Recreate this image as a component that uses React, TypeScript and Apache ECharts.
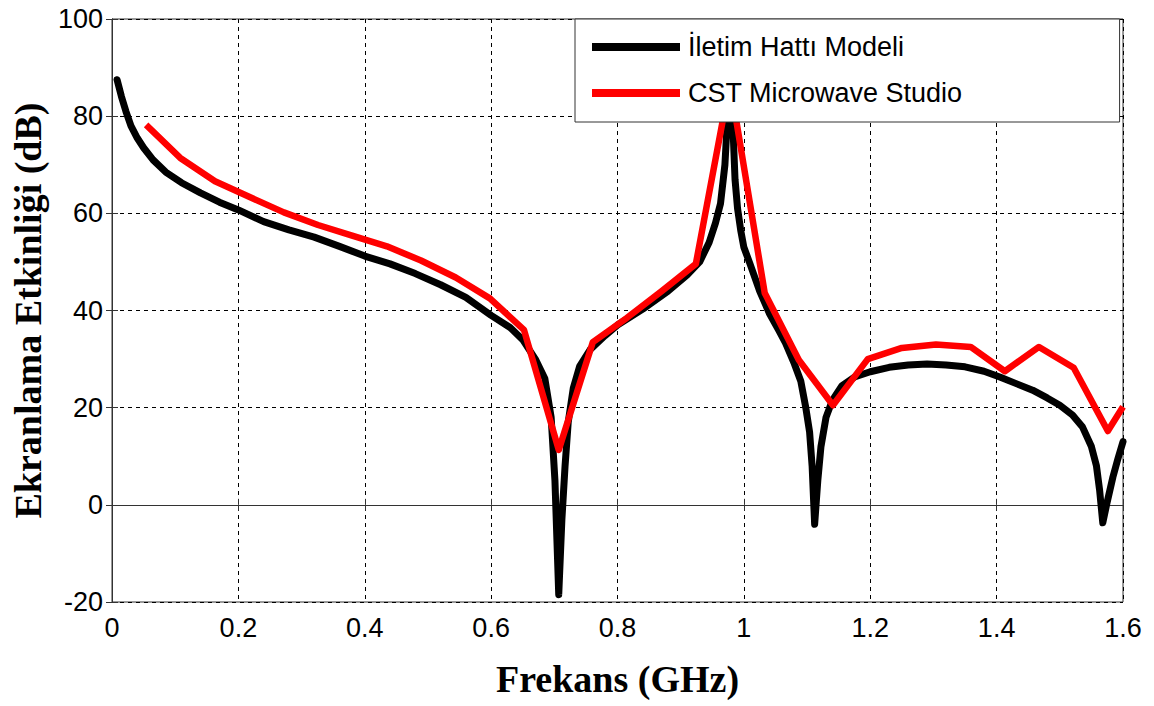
import React, { useEffect, useRef } from "react";
import * as echarts from "echarts";

const xTicks = [0, 0.2, 0.4, 0.6, 0.8, 1, 1.2, 1.4, 1.6];
const yTicks = [-20, 0, 20, 40, 60, 80, 100];

const seriesNames = ["İletim Hattı Modeli", "CST Microwave Studio"];

// İletim Hattı Modeli (black)
const tlmFreq = [
  0.008, 0.015, 0.022, 0.03, 0.04, 0.05, 0.065, 0.085, 0.11, 0.14, 0.17, 0.2, 0.24, 0.28, 0.32, 0.36,
  0.4, 0.44, 0.48, 0.52, 0.56, 0.6, 0.63, 0.65, 0.67, 0.685, 0.695, 0.701, 0.707, 0.712, 0.717, 0.722,
  0.73, 0.74, 0.757, 0.78, 0.8, 0.84, 0.88, 0.91, 0.93, 0.945, 0.955, 0.963, 0.97, 0.975, 0.978, 0.982,
  0.986, 0.99, 0.995, 1.0, 1.01, 1.025, 1.04, 1.055, 1.066, 1.08, 1.09, 1.098, 1.104, 1.108, 1.112,
  1.117, 1.122, 1.13, 1.14, 1.155, 1.175, 1.2, 1.23, 1.26, 1.29, 1.32, 1.35, 1.38, 1.405, 1.43, 1.457,
  1.48, 1.5, 1.52, 1.536, 1.55, 1.558, 1.563, 1.568, 1.574, 1.584, 1.592, 1.6,
];
const tlmDb = [
  87.5, 84, 81, 78, 75.5, 73.5, 71, 68.5, 66.3, 64.2, 62.3, 60.7, 58.3, 56.6, 55.1, 53.2,
  51.2, 49.6, 47.6, 45.3, 42.7, 39, 36.5, 34, 30, 26, 18, 5, -18.5, -3, 8, 17,
  24, 28.5, 32, 34.8, 37, 40.3, 44, 47.3, 50, 54, 58, 62, 70, 82, 95, 80,
  67, 61, 56.5, 53, 49.5, 44, 39.5, 36, 33.3, 29, 25.5, 20, 15, 8, -4,
  5, 12, 18, 21.5, 24.5, 26.3, 27.4, 28.3, 28.8, 29, 28.8, 28.4, 27.5, 26.3, 25, 23.6,
  22, 20.5, 18.5, 16, 12, 8, 3, -3.7, 0, 5.7, 9.5, 13,
];

// CST Microwave Studio (red)
const cstFreq = [
  0.054, 0.108, 0.163, 0.217, 0.272, 0.326, 0.38, 0.435, 0.489, 0.544, 0.598, 0.652, 0.707, 0.761,
  0.815, 0.87, 0.924, 0.978, 1.033, 1.087, 1.141, 1.196, 1.25, 1.304, 1.359, 1.413, 1.467, 1.522,
  1.576, 1.6,
];
const cstDb = [
  78.2, 71.4, 66.6, 63.4, 60.2, 57.6, 55.4, 53.2, 50.3, 46.8, 42.5, 36, 11.3, 33.5,
  38.5, 44, 49.6, 87, 43.6, 29.8, 20.5, 30, 32.3, 33, 32.5, 27.5, 32.5, 28.2,
  15.2, 20.2,
];

const zip = (xs: number[], ys: number[]) => xs.map((x, i) => [x, ys[i]]);

const tickFont = "Arial, 'Liberation Sans', sans-serif";
const titleFont = "'Times New Roman', 'Liberation Serif', serif";

export default function App() {
  const ref = useRef<HTMLDivElement>(null);
  useEffect(() => {
    if (!ref.current) return;
    const chart = echarts.init(ref.current, undefined, { renderer: "svg" });
    const gridSplit = {
      show: true,
      lineStyle: { color: "#000", width: 1, type: [4, 4] as any },
    };
    chart.setOption({
      animation: false,
      backgroundColor: "#fff",
      grid: {
        left: 112,
        top: 19,
        right: 31,
        bottom: 104,
        show: true,
        borderColor: "#333",
        borderWidth: 1,
        backgroundColor: "transparent",
      },
      legend: {
        data: seriesNames,
        orient: "vertical",
        left: 575,
        top: 19,
        padding: [13, 157, 14, 17],
        itemGap: 16,
        itemWidth: 88,
        itemHeight: 8,
        icon: "rect",
        backgroundColor: "#fff",
        borderColor: "#333",
        borderWidth: 1,
        textStyle: {
          fontFamily: tickFont,
          fontSize: 27,
          color: "#000",
          lineHeight: 30,
          padding: [0, 0, 0, 3],
        },
      },
      xAxis: [
        {
          type: "value",
          min: xTicks[0],
          max: xTicks[xTicks.length - 1],
          interval: 0.2,
          position: "bottom",
          name: "Frekans (GHz)",
          nameLocation: "middle",
          nameGap: 58,
          nameTextStyle: {
            fontFamily: titleFont,
            fontWeight: "bold",
            fontSize: 38,
            color: "#000",
          },
          axisLine: { show: true, lineStyle: { color: "#333", width: 1 } },
          axisTick: { show: true, inside: true, length: 6, lineStyle: { color: "#333" } },
          axisLabel: {
            fontFamily: tickFont,
            fontSize: 27,
            color: "#000",
            margin: 12,
          },
          splitLine: gridSplit,
        },
        {
          type: "value",
          min: xTicks[0],
          max: xTicks[xTicks.length - 1],
          interval: 0.2,
          position: "top",
          axisLine: { show: true, lineStyle: { color: "#333", width: 1 } },
          axisTick: { show: true, inside: true, length: 6, lineStyle: { color: "#333" } },
          axisLabel: { show: false },
          splitLine: { show: false },
        },
      ],
      yAxis: [
        {
          type: "value",
          min: yTicks[0],
          max: yTicks[yTicks.length - 1],
          interval: 20,
          position: "left",
          name: "Ekranlama Etkinliği (dB)",
          nameLocation: "middle",
          nameGap: 62,
          nameTextStyle: {
            fontFamily: titleFont,
            fontWeight: "bold",
            fontSize: 38,
            color: "#000",
          },
          axisLine: { show: true, lineStyle: { color: "#333", width: 1 } },
          axisTick: { show: true, inside: true, length: 6, lineStyle: { color: "#333" } },
          axisLabel: {
            fontFamily: tickFont,
            fontSize: 27,
            color: "#000",
            margin: 9,
          },
          splitLine: gridSplit,
        },
        {
          type: "value",
          min: yTicks[0],
          max: yTicks[yTicks.length - 1],
          interval: 20,
          position: "right",
          axisLine: { show: true, lineStyle: { color: "#333", width: 1 } },
          axisTick: { show: true, inside: true, length: 6, lineStyle: { color: "#333" } },
          axisLabel: { show: false },
          splitLine: { show: false },
        },
      ],
      series: [
        {
          name: seriesNames[0],
          type: "line",
          data: zip(tlmFreq, tlmDb),
          showSymbol: false,
          symbol: "none",
          color: "#000",
          lineStyle: { color: "#000", width: 7, join: "round", cap: "round" },
          z: 2,
        },
        {
          name: seriesNames[1],
          type: "line",
          data: zip(cstFreq, cstDb),
          showSymbol: false,
          symbol: "none",
          color: "#ff0000",
          lineStyle: { color: "#ff0000", width: 6.5, join: "round", cap: "butt" },
          z: 3,
        },
      ],
    });
    return () => chart.dispose();
  }, []);
  return (
    <div
      ref={ref}
      style={{ position: "fixed", left: 0, top: 0, width: 1154, height: 706, background: "#fff" }}
    />
  );
}
